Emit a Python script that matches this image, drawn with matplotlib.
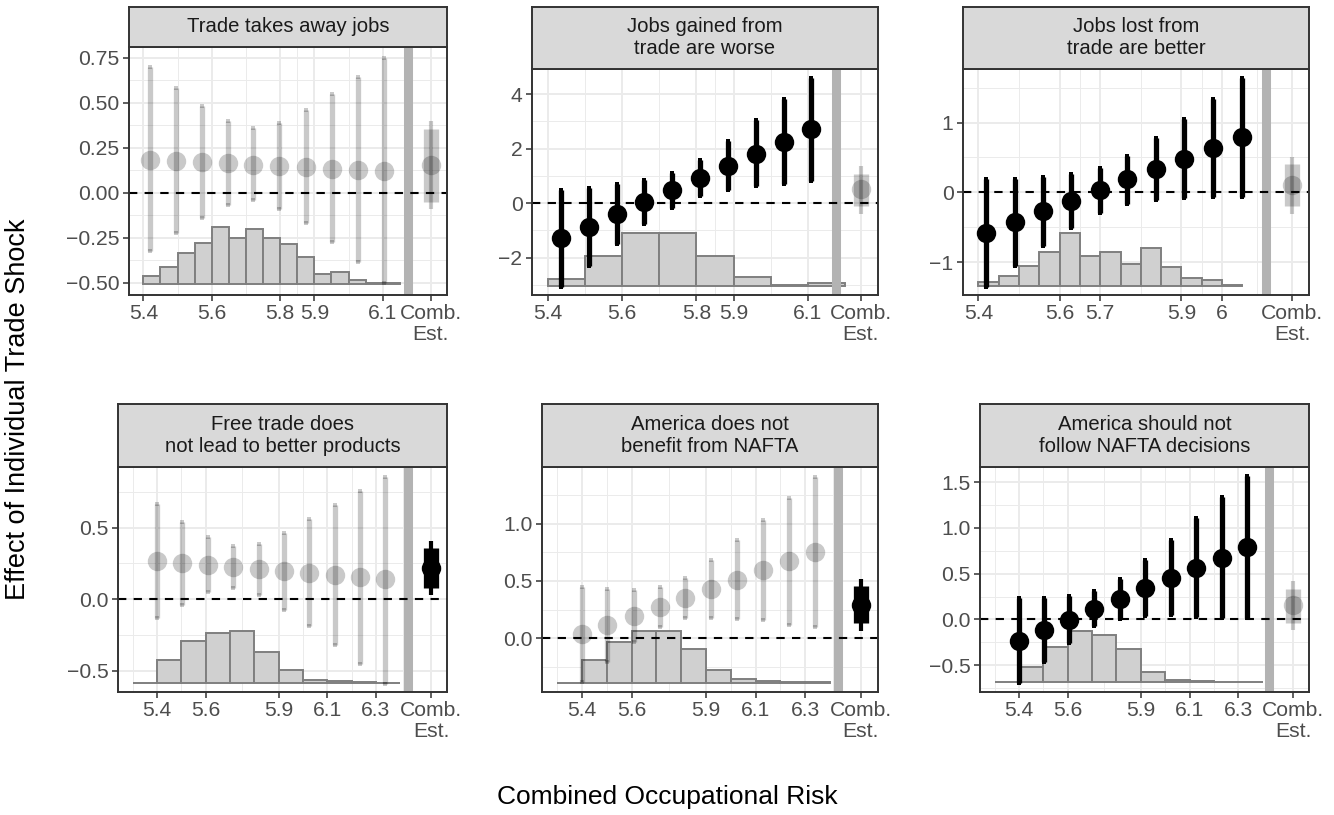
import numpy as np
import matplotlib
matplotlib.use("Agg")
import matplotlib.pyplot as plt

plt.rcParams["font.family"] = ["Liberation Sans", "DejaVu Sans"]

W, H = 1334, 815

TITLES = ["Trade takes away jobs",
          "Jobs gained from\ntrade are worse",
          "Jobs lost from\ntrade are better",
          "Free trade does\nnot lead to better products",
          "America does not\nbenefit from NAFTA",
          "America should not\nfollow NAFTA decisions"]

# --- panel 1: Trade takes away jobs (grey points, grey combined) ---
X1 = [5.418, 5.494, 5.571, 5.647, 5.722, 5.798, 5.876, 5.952, 6.029, 6.103]
EST1 = [0.180, 0.177, 0.171, 0.166, 0.156, 0.149, 0.143, 0.134, 0.125, 0.118]
LO1 = [-0.322, -0.226, -0.138, -0.069, -0.041, -0.088, -0.167, -0.273, -0.384, -0.504]
HI1 = [0.698, 0.584, 0.480, 0.399, 0.362, 0.388, 0.458, 0.547, 0.643, 0.750]
COMB1 = [0.156, -0.051, 0.356, -0.088, 0.399]   # est, inner lo/hi, outer lo/hi
HIST1_LEFT = [5.40, 5.45, 5.50, 5.55, 5.60, 5.65, 5.70, 5.75, 5.80, 5.85,
              5.90, 5.95, 6.00, 6.05, 6.10]
HIST1_TOP = [-0.463, -0.411, -0.337, -0.282, -0.193, -0.249, -0.204, -0.249,
             -0.286, -0.356, -0.452, -0.441, -0.485, -0.500, -0.500]
HIST1_BASE = -0.507

# --- panel 2: Jobs gained from trade are worse ---
X2 = [5.434, 5.510, 5.585, 5.660, 5.735, 5.810, 5.885, 5.960, 6.035, 6.109]
EST2 = [-1.276, -0.859, -0.417, 0.037, 0.491, 0.920, 1.362, 1.816, 2.258, 2.712]
LO2 = [-3.09, -2.29, -1.50, -0.76, -0.17, 0.245, 0.466, 0.613, 0.712, 0.798]
HI2 = [0.466, 0.552, 0.712, 0.834, 1.104, 1.595, 2.270, 3.043, 3.804, 4.601]
COMB2 = [0.503, -0.09, 1.08, -0.39, 1.36]
HIST2_LEFT = [5.4, 5.5, 5.6, 5.7, 5.8, 5.9, 6.0, 6.1]
HIST2_TOP = [-2.785, -1.926, -1.092, -1.092, -1.926, -2.724, -2.994, -2.945]
HIST2_BASE = -3.03

# --- panel 3: Jobs lost from trade are better ---
X3 = [5.418, 5.490, 5.559, 5.629, 5.699, 5.767, 5.837, 5.907, 5.978, 6.048]
EST3 = [-0.585, -0.427, -0.273, -0.125, 0.029, 0.187, 0.331, 0.484, 0.638, 0.789]
LO3 = [-1.353, -1.060, -0.772, -0.513, -0.293, -0.163, -0.106, -0.082, -0.067, -0.067]
HI3 = [0.187, 0.197, 0.221, 0.259, 0.350, 0.523, 0.772, 1.050, 1.338, 1.645]
COMB3 = [0.10, -0.201, 0.403, -0.307, 0.508]
HIST3_LEFT = [5.40, 5.45, 5.50, 5.55, 5.60, 5.65, 5.70, 5.75, 5.80, 5.85,
              5.90, 5.95, 6.00]
HIST3_TOP = [-1.290, -1.204, -1.060, -0.859, -0.585, -0.906, -0.859, -1.026,
             -0.796, -1.074, -1.233, -1.252, -1.329]
HIST3_BASE = -1.338

# --- panel 4: Free trade does not lead to better products ---
X4 = [5.400, 5.504, 5.608, 5.712, 5.818, 5.921, 6.026, 6.130, 6.234, 6.338]
EST4 = [0.267, 0.256, 0.240, 0.226, 0.209, 0.198, 0.184, 0.170, 0.156, 0.140]
LO4 = [-0.128, -0.037, 0.053, 0.079, 0.030, -0.077, -0.188, -0.321, -0.449, -0.588]
HI4 = [0.667, 0.540, 0.435, 0.370, 0.388, 0.465, 0.558, 0.656, 0.753, 0.853]
COMB4 = [0.221, 0.081, 0.360, 0.033, 0.407]
HIST4_LEFT = [5.3, 5.4, 5.5, 5.6, 5.7, 5.8, 5.9, 6.0, 6.1, 6.2, 6.3]
HIST4_TOP = [-0.584, -0.421, -0.288, -0.235, -0.223, -0.365, -0.491, -0.560,
             -0.572, -0.579, -0.581]
HIST4_BASE = -0.584

# --- panel 5: America does not benefit from NAFTA ---
X5 = [5.400, 5.503, 5.608, 5.713, 5.817, 5.921, 6.025, 6.130, 6.234, 6.338]
EST5 = [0.035, 0.113, 0.195, 0.273, 0.352, 0.427, 0.512, 0.593, 0.672, 0.753]
LO5 = [-0.378, -0.207, -0.034, 0.098, 0.175, 0.174, 0.169, 0.157, 0.117, 0.099]
HI5 = [0.448, 0.433, 0.424, 0.448, 0.529, 0.680, 0.855, 1.029, 1.227, 1.407]
COMB5 = [0.294, 0.134, 0.453, 0.064, 0.520]
HIST5_LEFT = [5.3, 5.4, 5.5, 5.6, 5.7, 5.8, 5.9, 6.0, 6.1, 6.2, 6.3]
HIST5_TOP = [-0.387, -0.192, -0.032, 0.064, 0.064, -0.096, -0.279, -0.352,
             -0.372, -0.381, -0.381]
HIST5_BASE = -0.387

# --- panel 6: America should not follow NAFTA decisions ---
X6 = [5.400, 5.504, 5.607, 5.709, 5.814, 5.917, 6.022, 6.126, 6.231, 6.334]
EST6 = [-0.230, -0.113, -0.004, 0.117, 0.226, 0.343, 0.456, 0.566, 0.675, 0.792]
LO6 = [-0.694, -0.460, -0.260, -0.076, 0.007, 0.040, 0.047, 0.030, 0.018, 0.018]
HI6 = [0.234, 0.234, 0.252, 0.310, 0.445, 0.646, 0.865, 1.102, 1.332, 1.566]
COMB6 = [0.153, -0.040, 0.336, -0.120, 0.420]
HIST6_LEFT = [5.3, 5.4, 5.5, 5.6, 5.7, 5.8, 5.9, 6.0, 6.1, 6.2, 6.3]
HIST6_TOP = [-0.686, -0.522, -0.303, -0.131, -0.175, -0.321, -0.577, -0.657,
             -0.675, -0.684, -0.686]
HIST6_BASE = -0.686

HIST_WIDTH = [0.05, 0.1, 0.05, 0.1, 0.1, 0.1]

# separator band and combined-estimate position on the x axis
SEP_X = [6.173, 6.176, 6.108, 6.432, 6.432, 6.427]
COMB_X = [6.241, 6.242, 6.172, 6.526, 6.525, 6.526]

# axis ticks
XTICKS = [[5.4, 5.6, 5.8, 5.9, 6.1], [5.4, 5.6, 5.8, 5.9, 6.1],
          [5.4, 5.6, 5.7, 5.9, 6.0], [5.4, 5.6, 5.9, 6.1, 6.3],
          [5.4, 5.6, 5.9, 6.1, 6.3], [5.4, 5.6, 5.9, 6.1, 6.3]]
XTICKLABELS = [["5.4", "5.6", "5.8", "5.9", "6.1"], ["5.4", "5.6", "5.8", "5.9", "6.1"],
               ["5.4", "5.6", "5.7", "5.9", "6"], ["5.4", "5.6", "5.9", "6.1", "6.3"],
               ["5.4", "5.6", "5.9", "6.1", "6.3"], ["5.4", "5.6", "5.9", "6.1", "6.3"]]
YTICKS = [[-0.5, -0.25, 0, 0.25, 0.5, 0.75], [-2, 0, 2, 4], [-1, 0, 1],
          [-0.5, 0, 0.5], [0, 0.5, 1.0], [-0.5, 0, 0.5, 1.0, 1.5]]
YTICKLABELS = [["\u22120.50", "\u22120.25", "0.00", "0.25", "0.50", "0.75"],
               ["\u22122", "0", "2", "4"], ["\u22121", "0", "1"],
               ["\u22120.5", "0.0", "0.5"], ["0.0", "0.5", "1.0"],
               ["\u22120.5", "0.0", "0.5", "1.0", "1.5"]]
XLIM = [(5.358, 6.288), (5.357, 6.289), (5.362, 6.214),
        (5.240, 6.592), (5.239, 6.594), (5.240, 6.590)]
YLIM = [(-0.568, 0.809), (-3.37, 4.92), (-1.47, 1.767),
        (-0.647, 0.923), (-0.468, 1.494), (-0.792, 1.664)]

# which layers are highlighted in black (points, combined estimate)
BLACK_POINTS = [False, True, True, False, False, True]
BLACK_COMB = [False, False, False, True, True, False]

# pixel boxes: panel (left, top, right, bottom) and strip top
PANEL_BOX = [(129, 47, 447, 295), (532, 69, 878, 295), (963, 69, 1309, 295),
             (118, 467, 447, 692), (542, 467, 878, 692), (980, 467, 1309, 692)]
STRIP_TOP = [7, 7, 7, 404, 404, 404]

panels = [
    (X1, EST1, LO1, HI1, COMB1, HIST1_LEFT, HIST1_TOP, HIST1_BASE),
    (X2, EST2, LO2, HI2, COMB2, HIST2_LEFT, HIST2_TOP, HIST2_BASE),
    (X3, EST3, LO3, HI3, COMB3, HIST3_LEFT, HIST3_TOP, HIST3_BASE),
    (X4, EST4, LO4, HI4, COMB4, HIST4_LEFT, HIST4_TOP, HIST4_BASE),
    (X5, EST5, LO5, HI5, COMB5, HIST5_LEFT, HIST5_TOP, HIST5_BASE),
    (X6, EST6, LO6, HI6, COMB6, HIST6_LEFT, HIST6_TOP, HIST6_BASE),
]

GRID = "#EBEBEB"
BORDER = "#333333"
GREY_ALPHA = 0.21


def box(l, t, r, b):
    return [l / W, 1 - b / H, (r - l) / W, (b - t) / H]


def minor_breaks(major, lim):
    # midpoints between breaks, extended by one step like ggplot does
    b = list(major)
    step = b[1] - b[0]
    if lim[0] < b[0]:
        b = [b[0] - step] + b
    if lim[1] > b[-1]:
        b = b + [b[-1] + step]
    mids = [(a + c) / 2 for a, c in zip(b[:-1], b[1:])]
    return [m for m in mids if lim[0] <= m <= lim[1]]


fig = plt.figure(figsize=(W / 100, H / 100), dpi=100)

for k, (xs, est, lo, hi, comb, hleft, htop, hbase) in enumerate(panels):
    l, t, r, b = PANEL_BOX[k]
    ax = fig.add_axes(box(l, t, r, b))
    st = fig.add_axes(box(l, STRIP_TOP[k], r, t))

    # strip on top of the panel
    st.set_facecolor("#D9D9D9")
    st.set_xticks([])
    st.set_yticks([])
    for s in st.spines.values():
        s.set_color(BORDER)
        s.set_linewidth(1.4)
    st.text(0.5, 0.5, TITLES[k], ha="center", va="center", fontsize=14.6,
            color="#1A1A1A", linespacing=1.2, transform=st.transAxes)

    ax.set_xlim(*XLIM[k])
    ax.set_ylim(*YLIM[k])

    # grid
    xmaj = XTICKS[k] + [COMB_X[k]]
    ax.set_xticks(xmaj)
    ax.set_xticklabels(XTICKLABELS[k] + ["Comb.\nEst."])
    ax.set_xticks(minor_breaks(xmaj, XLIM[k]), minor=True)
    ax.set_yticks(YTICKS[k])
    ax.set_yticklabels(YTICKLABELS[k])
    ax.set_yticks(minor_breaks(YTICKS[k], YLIM[k]), minor=True)
    ax.set_axisbelow(True)
    ax.grid(which="major", color=GRID, linewidth=1.4)
    ax.grid(which="minor", color=GRID, linewidth=0.7)
    ax.tick_params(which="minor", length=0)
    ax.tick_params(which="major", length=4.3, width=1.1, color=BORDER,
                   labelsize=15.2, labelcolor="#4D4D4D", pad=2.5)
    for lab in ax.get_xticklabels():
        lab.set_linespacing(1.1)
    for s in ax.spines.values():
        s.set_color(BORDER)
        s.set_linewidth(1.4)
        s.set_zorder(10)

    # histogram of the moderator
    heights = [tp - hbase for tp in htop]
    ax.bar(hleft, heights, width=HIST_WIDTH[k], bottom=hbase, align="edge",
           color="#D0D0D0", edgecolor="#7F7F7F", linewidth=1.4, zorder=1)

    # separator before combined estimate
    ax.axvline(SEP_X[k], color="#B3B3B3", linewidth=6.5, zorder=2)
    ax.axhline(0, color="black", linewidth=1.5, linestyle=(0, (4, 3.5)), zorder=3)

    # point estimates with intervals
    alpha = 1.0 if BLACK_POINTS[k] else GREY_ALPHA
    for x, e, a, c in zip(xs, est, lo, hi):
        ax.plot([x, x], [a, c], color="black", alpha=alpha, linewidth=3.8,
                solid_capstyle="butt", zorder=4)
        ax.plot([x, x], [a, c], linestyle="none", marker="s", markersize=2.2,
                markeredgewidth=0, color="black", alpha=alpha, zorder=4)
        ax.plot(x, e, "o", markersize=14, markeredgewidth=0, color="black",
                alpha=alpha, zorder=5)

    # combined estimate
    ca = 1.0 if BLACK_COMB[k] else GREY_ALPHA
    cx = COMB_X[k]
    ax.plot([cx, cx], [comb[1], comb[2]], color="black", alpha=ca,
            linewidth=11, solid_capstyle="butt", zorder=4)
    ax.plot([cx, cx], [comb[3], comb[4]], color="black", alpha=ca,
            linewidth=3, solid_capstyle="butt", zorder=4)
    ax.plot(cx, comb[0], "o", markersize=14, markeredgewidth=0, color="black",
            alpha=ca, zorder=5)

fig.text(667 / W, 1 - 797 / H, "Combined Occupational Risk", ha="center",
         va="center", fontsize=19, color="black")
fig.text(18 / W, 1 - 409 / H, "Effect of Individual Trade Shock", ha="center",
         va="center", rotation=90, fontsize=19.5, color="black")

fig.savefig("out.png", dpi=100, facecolor="white")
